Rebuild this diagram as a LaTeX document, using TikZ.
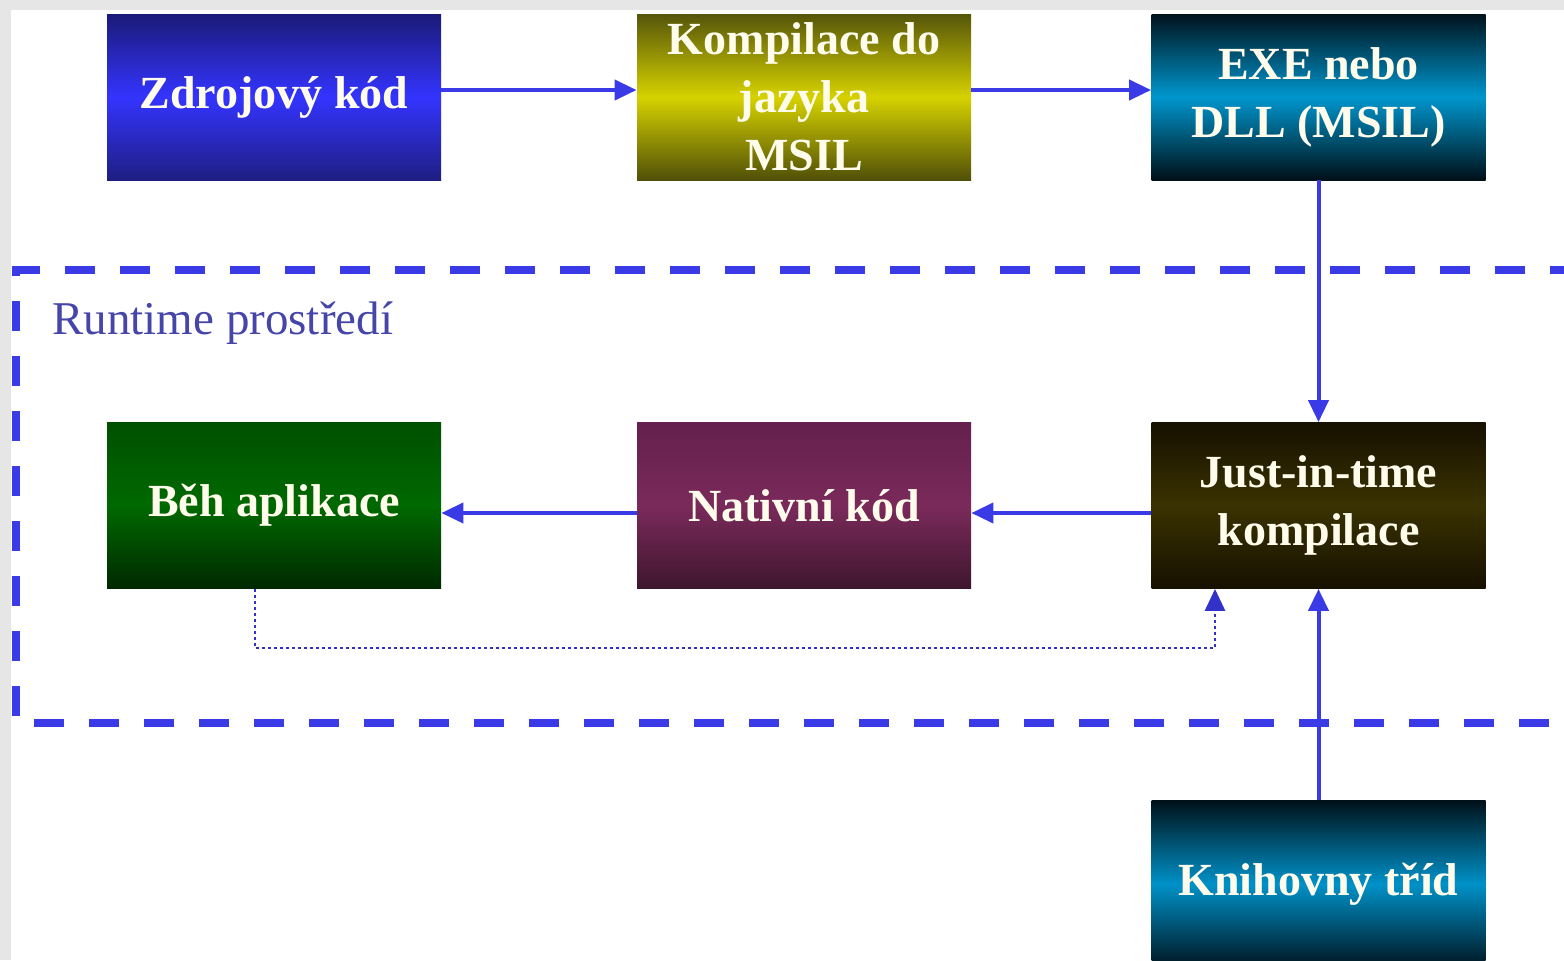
\documentclass[tikz,border=0pt]{standalone}
\usepackage{fontspec}
\setmainfont{Liberation Serif}
\usetikzlibrary{arrows.meta,calc}
\definecolor{arrblue}{RGB}{58,58,230}
\definecolor{dotblue}{RGB}{50,50,200}
\definecolor{framegray}{RGB}{230,230,230}
\definecolor{txtcream}{RGB}{255,252,236}
\definecolor{lblblue}{RGB}{70,70,170}
\tikzset{
  boxnode/.style={minimum width=167pt, minimum height=83pt, inner sep=0pt, align=center,
    font=\fontsize{23}{29}\selectfont\bfseries, text=txtcream},
  conn/.style={draw=arrblue, line width=2pt, -{Triangle[length=11pt,width=10pt]}},
  dotconn/.style={draw=dotblue, line width=1.4pt, dash pattern=on 1.4pt off 1.6pt, -{Triangle[length=11pt,width=10pt]}},
  runtimebox/.style={draw=arrblue, line width=3.8pt, dash pattern=on 15pt off 12.5pt}
}
\begin{document}
\begin{tikzpicture}[x=0.5pt,y=-0.5pt]
\useasboundingbox (0,0) rectangle (1564,960);
\clip (0,0) rectangle (1564,960);
\fill[framegray] (0,0) rectangle (1564,960);
\fill[white] (11,10) rectangle (1564,960);

% runtime area
\coordinate (rtTR) at (1580,270);
\coordinate (rtTL) at (16,270);
\coordinate (rtBL) at (16,723);
\coordinate (rtBR) at (1580,723);
\draw[runtimebox] (rtTR) -- (rtTL) -- (rtBL) -- (rtBR);
\node[anchor=west, text=lblblue, font=\fontsize{23.5}{27}\selectfont, inner sep=0pt] (rtlabel) at (52,323) {Runtime prostředí};

% boxes
\node[boxnode, top color={rgb,255:red,26;green,26;blue,120}, bottom color={rgb,255:red,30;green,30;blue,130}, middle color={rgb,255:red,52;green,52;blue,255}] (zdroj) at (274,97) {Zdrojový kód};
\node[boxnode, top color={rgb,255:red,85;green,85;blue,10}, bottom color={rgb,255:red,80;green,80;blue,8}, middle color={rgb,255:red,214;green,210;blue,0}] (komp) at (804,97) {Kompilace do\\jazyka\\MSIL};
\node[boxnode, top color={rgb,255:red,0;green,18;blue,28}, bottom color={rgb,255:red,0;green,16;blue,24}, middle color={rgb,255:red,0;green,150;blue,205}] (exe) at (1318.5,97) {EXE nebo\\DLL (MSIL)};
\node[boxnode, top color={rgb,255:red,0;green,80;blue,0}, bottom color={rgb,255:red,0;green,40;blue,0}, middle color={rgb,255:red,0;green,105;blue,0}] (beh) at (274,505.5) {\raisebox{-2pt}{Běh aplikace}};
\node[boxnode, top color={rgb,255:red,100;green,32;blue,78}, bottom color={rgb,255:red,62;green,22;blue,46}, middle color={rgb,255:red,122;green,42;blue,90}] (nat) at (804,505.5) {Nativní kód};
\node[boxnode, top color={rgb,255:red,22;green,16;blue,0}, bottom color={rgb,255:red,22;green,16;blue,0}, middle color={rgb,255:red,58;green,50;blue,0}] (jit) at (1318.5,505.5) {Just-in-time\\kompilace};
\node[boxnode, minimum height=84pt, top color={rgb,255:red,0;green,16;blue,24}, bottom color={rgb,255:red,0;green,20;blue,30}, middle color={rgb,255:red,0;green,145;blue,200}] (knih) at (1318.5,884) {\raisebox{-2pt}{Knihovny tříd}};

% connectors
\draw[conn] ([yshift=3.5pt]zdroj.east) -- ([yshift=3.5pt]komp.west);
\draw[conn] ([yshift=3.5pt]komp.east) -- ([yshift=3.5pt]exe.west);
\draw[conn] (exe.south) -- (jit.north);
\draw[conn] ([yshift=-3.75pt]jit.west) -- ([yshift=-3.75pt]nat.east);
\draw[conn] ([yshift=-3.75pt]nat.west) -- ([yshift=-3.75pt]beh.east);
\draw[conn] (knih.north) -- (jit.south);
\coordinate (dA) at (255,648);
\coordinate (dB) at (1215,648);
\draw[dotconn] (beh.south -| dA) -- (dA) -- (dB) -- (jit.south -| dB);
\end{tikzpicture}
\end{document}
